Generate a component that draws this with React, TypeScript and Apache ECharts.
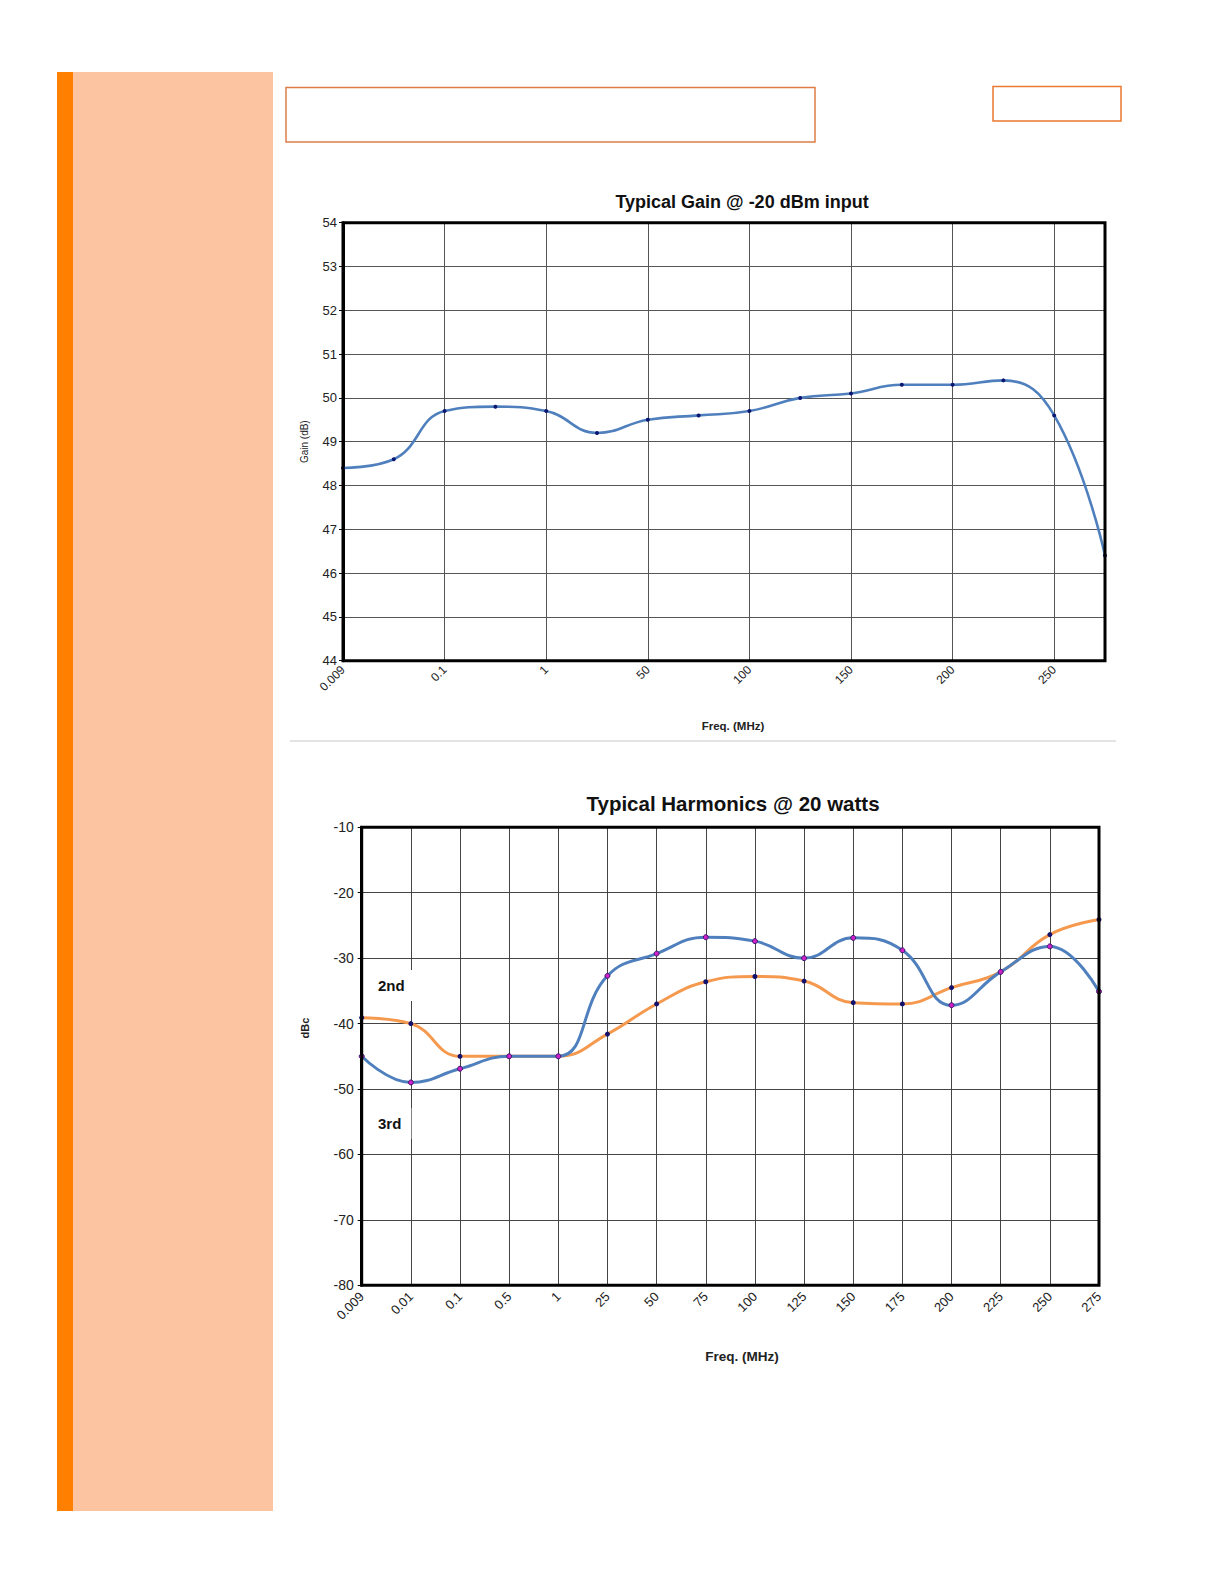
import React, { useEffect, useRef } from "react";
import * as echarts from "echarts";

// ---- Data ----
const gainTickLabels = ["0.009", "0.1", "1", "50", "100", "150", "200", "250"];
const gainValues = [48.4, 48.6, 49.7, 49.8, 49.7, 49.2, 49.5, 49.6, 49.7, 50.0, 50.1, 50.3, 50.3, 50.4, 49.6, 46.4];
const harmFreqs = ["0.009", "0.01", "0.1", "0.5", "1", "25", "50", "75", "100", "125", "150", "175", "200", "225", "250", "275"];
const harm2nd = [-39.1, -40.0, -45.0, -45.0, -45.0, -41.6, -37.0, -33.6, -32.8, -33.5, -36.8, -37.0, -34.5, -32.1, -26.4, -24.1];
const harm3rd = [-45.0, -49.0, -46.9, -45.0, -45.0, -32.7, -29.3, -26.8, -27.4, -30.0, -26.9, -28.8, -37.2, -32.1, -28.2, -35.1];

const FONT = "'Liberation Sans', Arial, sans-serif";

const G1 = { left: 343, top: 222.7, width: 762, height: 438 };
const G2 = { left: 361.7, top: 827.3, width: 737.3, height: 458 };

export default function App() {
  const ref = useRef<HTMLDivElement>(null);
  useEffect(() => {
    if (!ref.current) return;
    const chart = echarts.init(ref.current, null, { renderer: "svg" });
    const gainCategories: string[] = [];
    gainTickLabels.forEach((l) => {
      gainCategories.push(l);
      gainCategories.push("");
    });

    const option: any = {
      animation: false,
      backgroundColor: "#ffffff",
      textStyle: { fontFamily: FONT },
      grid: [
        { ...G1, show: false, containLabel: false },
        { ...G2, show: false, containLabel: false },
      ],
      xAxis: [
        {
          type: "category",
          gridIndex: 0,
          data: gainCategories,
          boundaryGap: false,
          axisLine: { show: false },
          axisTick: { show: false },
          axisLabel: {
            interval: 1,
            rotate: 45,
            margin: 7,
            fontSize: 12,
            color: "#222",
            fontFamily: FONT,
          },
          splitLine: { show: true, interval: 1, lineStyle: { color: "#555", width: 1 } },
        },
        {
          type: "category",
          gridIndex: 1,
          data: harmFreqs,
          boundaryGap: false,
          axisLine: { show: false },
          axisTick: { show: false },
          axisLabel: {
            interval: 0,
            rotate: 45,
            margin: 9,
            fontSize: 13,
            color: "#222",
            fontFamily: FONT,
          },
          splitLine: { show: true, interval: 0, lineStyle: { color: "#444", width: 1 } },
        },
      ],
      yAxis: [
        {
          type: "value",
          gridIndex: 0,
          min: 44,
          max: 54,
          interval: 1,
          axisLine: { show: true, lineStyle: { color: "#000", width: 3 } },
          axisTick: { show: true, length: 4, lineStyle: { color: "#000" } },
          axisLabel: { fontSize: 13, color: "#222", margin: 6, fontFamily: FONT },
          splitLine: { show: true, lineStyle: { color: "#555", width: 1 } },
          name: "Gain (dB)",
          nameLocation: "middle",
          nameRotate: 90,
          nameGap: 39,
          nameTextStyle: { fontSize: 10, color: "#222", verticalAlign: "middle", fontFamily: FONT },
        },
        {
          type: "value",
          gridIndex: 1,
          min: -80,
          max: -10,
          interval: 10,
          axisLine: { show: true, lineStyle: { color: "#000", width: 3 } },
          axisTick: { show: true, length: 4, lineStyle: { color: "#000" } },
          axisLabel: { fontSize: 14, color: "#222", margin: 8, fontFamily: FONT },
          splitLine: { show: true, lineStyle: { color: "#444", width: 1 } },
        },
      ],
      series: [
        {
          name: "Gain",
          type: "line",
          xAxisIndex: 0,
          yAxisIndex: 0,
          data: gainValues,
          smooth: 0.45,
          symbol: "circle",
          symbolSize: 4,
          itemStyle: { color: "#0b1670" },
          lineStyle: { color: "#4f80bd", width: 2.6 },
          z: 5,
        },
        {
          name: "2nd",
          type: "line",
          xAxisIndex: 1,
          yAxisIndex: 1,
          data: harm2nd,
          smooth: 0.45,
          symbol: "circle",
          symbolSize: 5,
          itemStyle: { color: "#12126e" },
          lineStyle: { color: "#f5994f", width: 3 },
          z: 5,
        },
        {
          name: "3rd",
          type: "line",
          xAxisIndex: 1,
          yAxisIndex: 1,
          data: harm3rd,
          smooth: 0.45,
          symbol: "circle",
          symbolSize: 5,
          itemStyle: { color: "#d020c8", borderColor: "#3a1a6e", borderWidth: 1 },
          lineStyle: { color: "#4f80bd", width: 3 },
          z: 6,
        },
      ],
      title: [
        {
          text: "Typical Gain @ -20 dBm input",
          left: 737,
          top: 188,
          textAlign: "center",
          textStyle: { fontSize: 18, fontWeight: "bold", color: "#111", fontFamily: FONT },
        },
        {
          text: "Typical Harmonics @ 20 watts",
          left: 728,
          top: 788,
          textAlign: "center",
          textStyle: { fontSize: 20.5, fontWeight: "bold", color: "#111", fontFamily: FONT },
        },
      ],
      graphic: [
        { type: "rect", shape: { x: 57, y: 72, width: 216, height: 1439 }, style: { fill: "#fdc4a2" }, z: 1 },
        { type: "rect", shape: { x: 57, y: 72, width: 16, height: 1439 }, style: { fill: "#ff8000" }, z: 2 },
        { type: "rect", shape: { x: 286, y: 87.5, width: 529, height: 54.5 }, style: { fill: "none", stroke: "#dd7d45", lineWidth: 1.5 }, z: 2 },
        { type: "rect", shape: { x: 993, y: 86.5, width: 128, height: 34.5 }, style: { fill: "none", stroke: "#ea7a30", lineWidth: 1.5 }, z: 2 },
        { type: "line", shape: { x1: 290, y1: 741, x2: 1116, y2: 741 }, style: { stroke: "#c8c8c8", lineWidth: 1 }, z: 2 },
        { type: "rect", shape: { x: G1.left, y: G1.top, width: G1.width, height: G1.height }, style: { fill: "none", stroke: "#000", lineWidth: 3 }, z: 100 },
        { type: "rect", shape: { x: G2.left, y: G2.top, width: G2.width, height: G2.height }, style: { fill: "none", stroke: "#000", lineWidth: 3 }, z: 100 },
        {
          type: "text",
          x: 733,
          y: 726,
          style: { text: "Freq. (MHz)", font: `bold 11.5px ${FONT}`, fill: "#222", align: "center", verticalAlign: "middle" },
          z: 50,
        },
        {
          type: "text",
          x: 742,
          y: 1356,
          style: { text: "Freq. (MHz)", font: `bold 13.5px ${FONT}`, fill: "#222", align: "center", verticalAlign: "middle" },
          z: 50,
        },
        {
          type: "text",
          x: 305,
          y: 1028,
          rotation: Math.PI / 2,
          style: { text: "dBc", font: `bold 11px ${FONT}`, fill: "#222", align: "center", verticalAlign: "middle" },
          z: 50,
        },
        {
          type: "text",
          x: 368,
          y: 970,
          style: { text: "2nd", font: `bold 15px ${FONT}`, fill: "#111", backgroundColor: "#fff", padding: [8, 10, 8, 10] },
          z: 50,
        },
        {
          type: "text",
          x: 368,
          y: 1108,
          style: { text: "3rd", font: `bold 15px ${FONT}`, fill: "#111", backgroundColor: "#fff", padding: [8, 10, 8, 10] },
          z: 50,
        },
      ],
    };
    chart.setOption(option);
    return () => chart.dispose();
  }, []);
  return (
    <div
      ref={ref}
      style={{ position: "absolute", left: 0, top: 0, width: 1224, height: 1584, background: "#fff" }}
    />
  );
}
